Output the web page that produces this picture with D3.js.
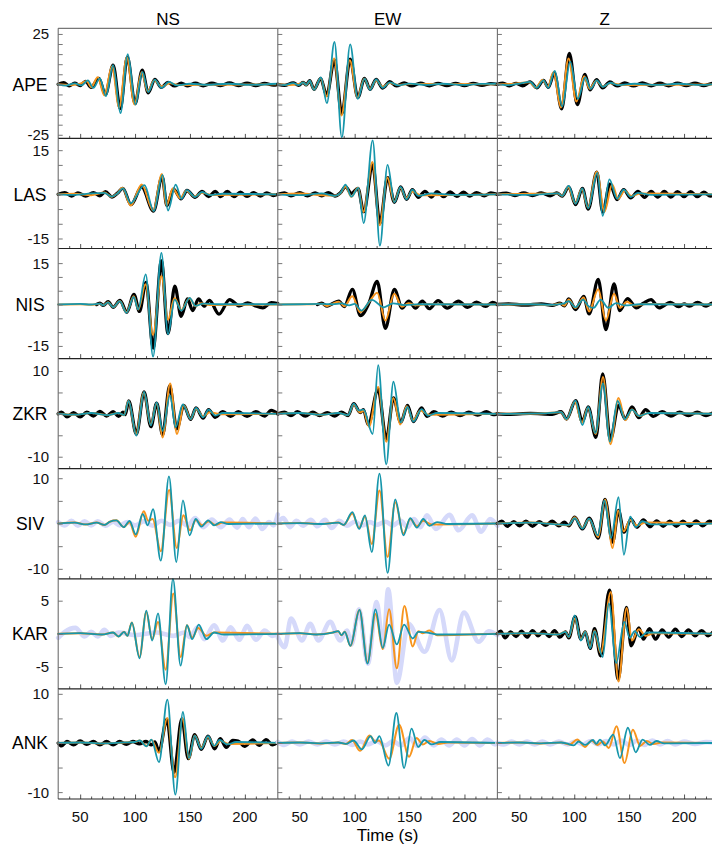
<!DOCTYPE html>
<html>
<head>
<meta charset="utf-8">
<script src="https://cdn.jsdelivr.net/npm/d3@7"></script>
<style>
  html, body { margin: 0; padding: 0; background: #fff; }
  svg { display: block; font-family: "Liberation Sans", Arial, sans-serif; }
</style>
</head>
<body>
<svg id="chart" width="712" height="850"></svg>
<script>
// Stations (rows), components (columns) and axis settings
const stations = ["APE", "LAS", "NIS", "ZKR", "SIV", "KAR", "ANK"];
const components = ["NS", "EW", "Z"];
const timeDomain = [30, 230];
const timeMinorTicks = d3.range(40, 230, 10);
const timeLabelTicks = [50, 100, 150, 200];
const ampDomains = [[-26.8, 27.8], [-18.4, 19], [-19.6, 20.3], [-12.8, 12.9], [-12.2, 12.1], [-8.3, 8.3], [-11.4, 11]];
const ampLabelTicks = [25, 15, 15, 10, 10, 5, 10];
const ampMinorStep = 5;

// Waveforms as [time (s), amplitude] turning points.
// obs = observed (black), synA = model A (orange), synB = model B (teal), rej = rejected record (lavender)

// APE
const ape_ns_obs = [[30,0],[35,0.8],[40,-0.8],[45,0.6],[50,-0.6],[55,1.5],[60,-1.5],[67,3],[73,-5],[80,9.5],[86.5,-12],[93,13.5],[100,-9.5],[106.5,7],[112,-4.2],[118,2.5],[124,-1.5],[130,1],[136,-0.8],[142,0.6],[148,-0.7],[155,0.6],[162,-0.7],[170,0.6],[178,-0.6],[186,0.7],[194,-0.6],[202,0.6],[210,-0.6],[218,0.5],[226,-0.4],[230,0]];
const ape_ns_synA = [[30,0],[40,-0.3],[50,0.3],[56,1.6],[60,-1.4],[66,3.5],[72,-5.5],[79,9],[85.5,-11.5],[92.5,13.5],[99.5,-10],[106,6],[111.5,-3.5],[117.5,2],[124,-1],[132,0.5],[140,-0.3],[230,0]];
const ape_ns_synB = [[30,0],[37,-0.6],[45,0.5],[51,-0.5],[57,2],[62,-1.7],[68,3],[73.5,-5.8],[80,9.5],[86.7,-14.3],[93.4,15],[100.3,-10],[106.7,6.2],[112,-3.8],[118,2.3],[124,-1.7],[131,1.2],[138,-0.5],[150,0.3],[165,-0.2],[185,0.3],[205,-0.2],[230,0.3]];
const ape_ew_obs = [[30,0],[36,-0.5],[44,0.7],[49,-0.5],[53,1],[56,-0.3],[59,1.8],[63,-2.5],[69,3],[74.5,-5.5],[81.5,12],[88.3,-14.5],[95.9,12.5],[102.9,-6.5],[109,3],[114,-2.5],[119.5,2.5],[125.6,-1.8],[132,1.3],[138,-0.8],[145,0.7],[152,-0.8],[160,0.6],[168,-0.7],[176,0.5],[184,-0.6],[192,0.5],[200,-0.6],[208,0.5],[216,-0.5],[224,0.4],[230,0]];
const ape_ew_synA = [[30,0],[40,-0.3],[50,0.3],[53,0.9],[56,-0.3],[59,1.7],[63,-2.5],[69,3],[74.5,-6],[81.3,12.8],[88,-15.5],[95.6,12],[102.6,-6.5],[108.7,2.8],[114,-2.3],[119.5,2],[125.5,-1.2],[132,0.7],[140,-0.3],[150,0.2],[230,0]];
const ape_ew_synB = [[30,0],[36,-0.4],[44,0.6],[49,-0.4],[53,1],[56,-0.3],[59,1.8],[63,-2.7],[69.3,3.4],[74.7,-9.3],[81.6,21],[88.3,-26.3],[95.9,19.8],[102.9,-7.2],[109,2.8],[114,-2.7],[119.5,2.5],[125.6,-1.7],[132,1],[140,-0.5],[150,0.4],[165,-0.3],[180,0.3],[200,-0.3],[215,0.2],[230,0.3]];
const ape_z_obs = [[30,0],[35,0.6],[41,-0.7],[47,0.5],[53,-0.7],[59.7,1.2],[65.8,-1.7],[71.9,2],[76.4,-1.5],[81.8,5.7],[88.5,-12.2],[95.5,15.3],[102.8,-10],[109.7,5],[114.3,-2.7],[120.3,2.3],[125.8,-1.7],[132.5,1.2],[139,-0.8],[146,0.7],[154,-0.8],[162,0.7],[170,-0.7],[178,0.6],[186,-0.7],[194,0.6],[202,-0.6],[210,0.6],[218,-0.6],[226,0.5],[230,0]];
const ape_z_synA = [[30,0],[45,0.3],[59,1],[65,-1.5],[71,2.2],[76,-1.2],[81,6],[87.8,-11.5],[94.8,12.8],[102,-8.5],[109,4],[114,-2.2],[120,1.8],[126,-1],[133,0.5],[145,-0.3],[230,0]];
const ape_z_synB = [[30,0],[40,-0.4],[50,0.4],[59.7,1.2],[65.8,-1.7],[71.9,2],[76.4,-1.7],[82.3,6.7],[89,-11],[96.3,11.2],[103.3,-7.2],[110,3.5],[115,-2.2],[120.5,2],[126,-1.2],[133,0.8],[140,-0.4],[155,0.3],[175,-0.3],[195,0.3],[215,-0.3],[230,0.2]];

// LAS
const las_ns_obs = [[30,0],[36,0.6],[42,-0.6],[48,0.5],[55,-0.6],[62,0.6],[68,-0.5],[73,0.9],[79,-0.9],[84,0.4],[88.8,2],[96.3,-3.5],[106,2.5],[116.8,-5.7],[124.7,6],[129,-3.8],[135,1.8],[142,-1.5],[147.3,1.3],[154.7,-1],[161,1],[167,-0.8],[173,1],[178,-0.8],[184,1],[190,-0.8],[196,0.7],[202,-0.7],[208,0.6],[214,-0.6],[220,0.5],[226,-0.4],[230,0]];
const las_ns_synA = [[30,0],[45,0.2],[60,-0.3],[72,0.6],[78.6,-0.8],[84,0.4],[88.5,2.2],[96,-3.8],[106,3.3],[116.5,-5.5],[124.5,6.9],[128.5,-3.8],[134.5,2],[141,-1.3],[147,1.2],[154,-0.7],[161,0.5],[170,-0.2],[230,0]];
const las_ns_synB = [[30,0],[45,-0.2],[60,0.3],[72,0.5],[78.6,-0.8],[84,0.3],[89,2],[96,-3],[108.6,3.1],[117,-5.7],[125,6.6],[130,-5.5],[137,3.3],[142.3,-1.5],[147.3,1.4],[154.7,-0.9],[161,0.8],[168,-0.3],[180,0.2],[230,0]];
const las_ew_obs = [[30,0],[36,0.5],[42,-0.5],[50,0.6],[57,-0.5],[64,0.5],[70,-0.5],[76,0.6],[82,-0.6],[87,0.5],[91.7,2.5],[97,0.3],[103,2],[108.2,-5.9],[116.4,10],[123,-9.8],[130,5.7],[136.2,-2.7],[141.9,2.5],[147.3,-1.7],[152.6,1.6],[158,-1],[164,1],[170,-0.9],[175,0.9],[181,-0.8],[187,0.8],[193,-0.7],[199,0.7],[205,-0.6],[211,0.6],[218,-0.5],[224,0.5],[230,0]];
const las_ew_synA = [[30,0],[50,0.3],[70,-0.3],[82,-0.5],[87,0.4],[91.7,2.7],[97,-0.8],[103,2.2],[108,-6],[116.2,11],[122.8,-10.5],[129.8,5.7],[136,-2.5],[141.7,2.2],[147,-1.3],[152.5,1],[160,-0.3],[230,0]];
const las_ew_synB = [[30,0],[50,-0.3],[70,0.3],[82,-0.5],[87,0.4],[91.7,3.3],[97,-0.8],[103.3,2.2],[108.2,-9.8],[116.4,18.3],[123,-17.4],[130,10],[136.2,-2.7],[141.9,2.5],[147.3,-1.7],[152.6,1.6],[158,-0.5],[170,0.3],[190,-0.2],[230,0]];
const las_z_obs = [[30,0],[38,0.4],[46,-0.4],[54,0.5],[62,-0.4],[70,0.5],[78,-0.5],[84,0.5],[89,-0.6],[95,2.5],[101.2,-3.5],[107.4,2],[112.7,-5],[120.5,7.5],[126,-6],[132.5,3.5],[139,-1.8],[145,1.6],[151.4,-1.2],[158,1],[164,-1],[170,1],[176,-0.9],[182,1],[188,-0.9],[194,0.9],[200,-0.8],[206,0.9],[212,-0.8],[218,0.7],[224,-0.6],[230,0]];
const las_z_synA = [[30,0],[60,0.2],[85,0.3],[89,-0.5],[94.5,2.5],[100.8,-3],[107,1.8],[112.5,-4.5],[120.5,7.7],[127.5,-5.9],[134.5,3.3],[140,-1.5],[146,1.2],[152,-0.6],[160,0.3],[230,0]];
const las_z_synB = [[30,0],[60,-0.2],[85,0.3],[89,-0.5],[95,2.9],[101.2,-3.2],[107.4,2],[112.7,-4.7],[121,7.3],[125.9,-7.3],[132,5.1],[139,-1.5],[145,1.6],[151.4,-0.9],[158,0.5],[170,-0.2],[230,0]];

// NIS
const nis_ns_obs = [[65,0],[68,0.5],[71,-0.3],[75.5,1],[80,-1],[86.3,1.5],[92.5,-2.8],[99,3.7],[104,-2.5],[110,8],[116.5,-15.8],[124,15.8],[130,-10.5],[136.2,6.7],[142,-4.3],[147.7,2],[152.5,-2.2],[157.8,2],[162.9,-0.6],[167.8,1.5],[176.4,-3.5],[186.1,1.8],[195,-0.5],[202.6,0.6],[209,-0.4],[216.4,-1.2],[224,0.7],[230,0.3]];
const nis_ns_synA = [[30,0],[50,0.1],[60,-0.1],[68,0.3],[71,-0.3],[75.5,0.8],[80,-1],[86.1,1.3],[92.2,-2.8],[98.8,3],[103,-1.8],[109.5,7.3],[116.3,-11],[124,10.3],[130,-5.5],[136,2.4],[142,-2],[149.5,2.3],[155,-0.6],[160,0.5],[168,-0.2],[230,0]];
const nis_ns_synB = [[30,0],[50,0.2],[60,0],[68,0.3],[71,-0.3],[75.5,0.8],[80,-1],[86.1,1.2],[92.2,-3],[98.8,2.8],[102.8,-1.8],[109.7,10.9],[116.4,-18.9],[124,18.7],[130,-10.8],[136.1,1.8],[142.2,-2.2],[149.7,2.4],[155,-0.5],[162,0.3],[175,0.1],[230,0.1]];
const nis_ew_obs = [[66,0],[70,0.5],[75,-0.6],[80,0.4],[85.6,1.2],[90.5,-0.8],[97.9,5.5],[105.3,-4],[113,0.5],[120.5,8.4],[128,-8.6],[136.2,5.5],[143.2,-1.3],[149.3,1.2],[155.4,-1.3],[161.7,1.2],[167.9,-1.5],[176,1.4],[184.3,-1.3],[194.6,1.2],[202.8,-1],[211,0.9],[219.3,-0.7],[225.5,0.8],[230,0]];
const nis_ew_synA = [[30,0],[60,0.1],[70,0.3],[75,-0.5],[80,0.3],[85.6,1],[90.5,-0.6],[97.9,3],[105,-2.8],[112.5,0.5],[120.5,4.3],[128,-5.8],[136,3.9],[143,-0.8],[149,0.5],[156,-0.3],[165,0.1],[230,0]];
const nis_ew_synB = [[30,0],[50,0.1],[70,0.2],[80,0.1],[88,0.4],[95,-0.3],[100,0.2],[106.1,-2.2],[115.6,1.7],[126.7,-1],[135,0.4],[145,-0.2],[160,0.1],[230,0]];
const nis_z_obs = [[30,0],[40,0.2],[55,-0.2],[70,0.2],[80,-0.3],[87,0.5],[91,-0.5],[95,2],[101.2,-1.8],[108.6,2.9],[113.5,-3.4],[121.8,9.1],[128.8,-9.1],[136.2,7.5],[141.5,-2.2],[148.5,2.1],[156.7,-1.2],[163,0.5],[169.9,1.8],[177.2,-1.2],[187.6,0.8],[195,-0.8],[200,0.2],[205,-0.6],[212.3,0.8],[220,-0.6],[226,0.5],[230,0]];
const nis_z_synA = [[30,0],[60,0.1],[80,-0.2],[87,0.4],[91,-0.4],[95,1.8],[101,-1.3],[108.6,2.5],[113.5,-2.5],[121.8,5.5],[128.8,-5.8],[136.2,3.9],[141.5,-1.2],[148,1],[155,-0.4],[165,0.2],[230,0]];
const nis_z_synB = [[30,0],[60,0.1],[80,-0.1],[90,0.3],[95,1.2],[101,-1],[108,1.8],[113,-0.6],[117.6,-1.2],[124,1.8],[131,-1.2],[138,0.5],[146,-0.3],[160,0.1],[230,0]];

// ZKR
const zkr_ns_obs = [[30,0],[33,0.4],[38,-0.7],[44,0.3],[50,-0.7],[56,0.4],[62,-0.5],[68,0.6],[74,-0.5],[80,0.5],[85,-0.6],[89,0.4],[91,-0.2],[94.2,3],[101.2,-4.7],[108.2,5.1],[114.4,-3],[119.7,2.5],[125.1,-4.9],[131.5,6.5],[138,-3.5],[144.4,2],[150.6,-1.3],[155.5,1.4],[162,-1],[167,1],[173,-0.8],[180,0.5],[187,-0.6],[194,0.5],[202,-0.6],[210,0.5],[218,-0.5],[224,0.8],[230,0]];
const zkr_ns_synA = [[30,0],[45,-0.2],[60,0.2],[75,-0.3],[85,0.2],[90,-0.3],[94,3],[101,-4.7],[108,5],[114.2,-2.5],[119.7,2.5],[125.1,-5.5],[132,7.1],[138.2,-4.7],[144.4,2],[150.6,-1.2],[155.5,1.2],[162,-0.6],[168,0.4],[178,-0.1],[230,0]];
const zkr_ns_synB = [[30,0],[45,-0.2],[60,0.2],[75,-0.3],[85,0.2],[90,-0.3],[94.2,3],[101.2,-5.1],[108.2,5.1],[114.4,-2.7],[119.7,2.7],[125.1,-4],[131.8,4.3],[137,-3.1],[143.5,2.2],[150.6,-1.2],[155.5,1.4],[162,-0.8],[167,1],[173,-0.4],[180,0.2],[230,0]];
const zkr_ew_obs = [[30,0],[36,0.4],[42,-0.4],[48,0.5],[55,-0.5],[62,0.4],[68,-0.4],[75,0.3],[82,-0.5],[88,0.4],[94,-0.4],[99.1,2.4],[105,0.3],[108,1],[112.3,-2.5],[121.4,5.7],[128.8,-5.9],[135.3,3.7],[142,-2],[148.1,2],[153.5,-1.8],[160.9,1.4],[166,-0.6],[172,0.5],[180,-0.5],[188,0.4],[196,-0.4],[204,0.4],[212,-0.3],[220,0.5],[226,-0.2],[230,0]];
const zkr_ew_synA = [[30,0],[50,0.2],[70,-0.2],[85,0.2],[94,-0.3],[99,2.2],[105,0.3],[108,0.8],[113,-3],[121.4,6.3],[128.8,-6.5],[135.3,3.7],[141.5,-2.5],[147.5,1.8],[153,-1.5],[160,0.8],[167,-0.2],[230,0]];
const zkr_ew_synB = [[30,0],[50,0.2],[70,-0.2],[85,0.2],[94,-0.3],[99.1,2.4],[104,0.8],[108,1],[116.4,-4.7],[121.4,11.4],[128.8,-11.8],[135.3,7.5],[142,-2],[148.1,1.6],[153.5,-1.8],[160.9,1.1],[167,-0.4],[175,0.2],[230,0]];
const zkr_z_obs = [[30,0],[40,-0.1],[60,0.1],[80,-0.1],[88,0.5],[93,-1.2],[101.2,3.1],[107.4,-1.8],[112.7,1.6],[119.7,-5.5],[125.9,9.3],[132.9,-6],[140.3,2],[146.5,-1.2],[152.6,1.6],[158.8,-0.9],[165,1],[172,-0.6],[180,0.5],[188,-0.5],[196,0.4],[204,-0.4],[212,0.4],[220,-0.4],[228,0.3],[230,0]];
const zkr_z_synA = [[30,0],[70,0.1],[88,0.4],[93,-1.3],[100.5,2.8],[107,-2],[112.5,1.4],[119.5,-4.7],[126.2,8.6],[132.9,-7.1],[140.3,3.7],[146.5,-1.5],[152.6,1],[159,-0.5],[168,0.2],[230,0]];
const zkr_z_synB = [[30,0],[70,0.1],[88,0.4],[93,-1.2],[101.2,3.1],[107.4,-2.6],[112.7,1.6],[119.2,-4.5],[126.2,7.1],[132.5,-6.5],[139.5,3],[146,-1.2],[152.6,1],[159,-0.5],[168,0.2],[230,0]];

// SIV
const siv_ns_synA = [[30,0],[45,0.2],[55,-0.2],[65,0.2],[72,-0.3],[77,0.4],[83,0.7],[89.7,-0.8],[95,0.3],[100.6,-2.9],[107.9,2.7],[112,0.6],[116,1],[123.5,-6.1],[131,7.4],[138,-5.4],[144,1.8],[150,-1.5],[155.5,0.8],[161,-0.4],[167,0.5],[173,-0.3],[180,0.2],[230,0]];
const siv_ns_synB = [[30,0],[45,0.2],[55,-0.2],[65,0.2],[72,-0.3],[77,0.4],[83,0.7],[89.7,-0.8],[95,0.6],[100.6,-2.4],[107,2.1],[111.5,-0.4],[116.4,3.2],[123.4,-8.2],[130.9,10.4],[137.6,-8.5],[143.6,5.1],[149.7,-2.6],[155.2,1],[160.4,-0.7],[166.5,0.7],[172,-0.4],[178,0.3],[185,-0.1],[230,0]];
const siv_ns_rej = [[30,0.3],[36,-0.4],[42,0.6],[48,-0.5],[54,0.5],[60,-0.4],[66,0.5],[73,-0.5],[80,0.4],[86,-0.4],[93,0.3],[100,-0.4],[108,0.5],[116,-0.5],[124,0.6],[132,-0.3],[140,0.6],[148,-0.5],[154.7,1.2],[162,-0.8],[170,0.9],[178,-0.8],[186,0.9],[193,-0.9],[198,1],[203.6,-0.8],[209.7,1.1],[215.8,-1.2],[222,0.3],[226,-0.4],[230,2]];
const siv_ew_synA = [[30,0],[50,0.1],[70,-0.1],[85,0.2],[90,-0.3],[97.9,2.2],[104,-1],[109.4,1.5],[115.6,-4.5],[122.6,7.3],[130,-7.4],[137,4.7],[144.4,-2.2],[150.6,1],[156.7,-0.6],[162.5,0.6],[170,-0.2],[230,0]];
const siv_ew_synB = [[30,0],[50,0.1],[70,-0.1],[85,0.2],[90,-0.3],[97.9,2.5],[104.1,-1.2],[109.4,1.8],[115.6,-6.3],[122.6,11],[130,-10.9],[137,5.3],[144.4,-2.6],[150.6,1.2],[156.7,-0.9],[162.5,1],[168,-0.5],[175,0.3],[185,-0.1],[230,0]];
const siv_ew_rej = [[30,0.3],[35,1.2],[41,-0.8],[47,0.6],[53,-0.5],[60,0.8],[66,-0.6],[73,0.8],[79,-1],[86,0.6],[93,-0.5],[100,0.4],[107,-0.4],[114,0.3],[120,-0.3],[128,0.4],[135,-0.4],[142,0.6],[148,-0.8],[154,1],[160,-0.8],[165.8,1.8],[174,-1.2],[186.4,1.9],[194.6,-1.5],[207,1.8],[215.2,-1.8],[223.4,1],[230,-0.5]];
const siv_z_obs = [[30,0],[34,0.5],[39,-0.6],[45,0.4],[50,-0.5],[56,0.5],[62,-0.6],[68,0.4],[74,-0.4],[80,0.5],[86,-0.5],[91,0.3],[95,-0.5],[100.4,1.4],[107.4,-1.2],[113.5,1.2],[121.8,-3.2],[128,5.3],[134.9,-4.1],[140.3,2.9],[145.2,-1.9],[151.8,0.9],[157,-0.8],[163,0.8],[169,-0.7],[175,0.6],[181,-0.6],[187,0.5],[193,-0.6],[199,0.5],[205,-0.6],[211,0.6],[217,-0.5],[223,0.5],[230,0]];
const siv_z_synA = [[30,0],[60,0.2],[85,-0.2],[95,-0.4],[100.4,1.4],[107.4,-1],[113.5,1],[121.8,-3],[128,5.3],[134.9,-5.4],[140,2.9],[145,-1.7],[151,0.8],[157,-0.4],[165,0.2],[230,0]];
const siv_z_synB = [[30,0],[60,0.2],[85,-0.2],[95,-0.3],[100.4,1.2],[107.4,-1.1],[113.5,1.1],[121.5,-2.6],[127.5,5.1],[133.5,-3.2],[140.3,5.8],[145.2,-6.9],[151,1.5],[156,-0.8],[162,0.5],[170,-0.2],[230,0]];

// KAR
const kar_ns_synA = [[30,0],[50,0.1],[70,-0.1],[80,0.2],[85,-0.4],[90,0.3],[93,-0.3],[97.1,1.7],[104.1,-3.5],[110.2,3.3],[115.6,-0.8],[120.9,1.8],[127.9,-5.4],[134.8,6.1],[141.5,-3.5],[147.3,1.3],[152,-0.6],[157.5,0.9],[165,-0.3],[172,0.2],[230,0]];
const kar_ns_synB = [[30,0],[50,0.1],[70,-0.1],[80,0.2],[85,-0.4],[90,0.3],[93,-0.3],[97.1,1.7],[104.1,-3.7],[110.2,3.5],[115.6,-1],[120.9,3.1],[127.9,-7.6],[134.5,8.3],[141.5,-4.8],[147.3,1.3],[152,-0.8],[158,1.4],[165,-0.8],[172,0.2],[180,-0.1],[230,0]];
const kar_ns_rej = [[30,-0.6],[36,0.3],[45.6,0.9],[54,-0.4],[60,0.3],[66,-0.4],[72,0.6],[78,-0.3],[85,0.2],[100,-0.2],[120,0.2],[135,-0.3],[145,0.2],[150,-0.5],[157,1],[163,-0.8],[172,1.3],[180,-1],[187,1],[195,-0.9],[202,1.2],[210,-0.9],[218,0.5],[225,-0.3],[230,0]];
const kar_ew_synA = [[30,0],[50,0.1],[65,-0.1],[80,0.2],[85,0.4],[88,-0.2],[91,0.3],[96.1,-1.8],[104.4,3.6],[111.7,-4.3],[119,3],[125.6,-2.3],[131.4,3.7],[138.4,-5.2],[145.3,4.2],[152.9,-1.9],[158,0.4],[162,0.1],[168.2,0.5],[175,-0.2],[230,0]];
const kar_ew_synB = [[30,0],[50,0.1],[65,-0.1],[80,0.2],[85,0.4],[88,-0.2],[91,0.3],[96.1,-1.8],[104.4,3.6],[111.7,-4.5],[119,3.7],[125.6,-2.1],[131.4,1.4],[138.4,-1.6],[145,1.4],[152.9,-0.7],[158,0.3],[166,0.2],[175,-0.1],[230,0]];
const kar_ew_rej = [[30,-0.5],[36.3,-2],[42,2.3],[52,-1],[59.5,1.5],[67,-1],[77.7,1.8],[86.8,-1],[93,0.5],[97,-1.6],[104,3.7],[112,-4.5],[120,4.8],[126,-2],[130.5,6.7],[138.5,-7.4],[149,1.5],[163.7,-2.7],[177.3,3.6],[188.4,-4],[199.5,3.2],[213,-1.2],[222,0.4],[230,-0.2]];
const kar_z_obs = [[30,0],[33,0.4],[37,-0.6],[42,0.3],[47,-0.4],[52,0.4],[57,-0.5],[62,0.5],[67,-0.3],[72,0.4],[77,-0.4],[82,0.5],[87,-0.5],[92,0.3],[95,-0.6],[100.8,2.6],[106,-0.8],[110,0.3],[114.5,-2.2],[118.5,0.8],[124,-3.3],[132,6.6],[140,-6.8],[147.5,4],[151.8,-1.8],[158.8,0.9],[163,-0.8],[168.5,0.8],[174,-0.8],[180,0.6],[186,-0.5],[192,0.7],[198,-0.4],[204,0.6],[210,-0.3],[216,0.5],[222,-0.3],[228,0.4],[230,0]];
const kar_z_synA = [[30,0],[60,0.1],[85,-0.1],[92,0.3],[95,-0.5],[100.6,2.3],[106,-0.8],[110,0.3],[114.5,-2],[118.5,0.5],[124,-2.9],[133.3,6.3],[140.3,-7.2],[147.7,3.9],[152.6,-1],[158.8,0.7],[165,-0.3],[172,0.1],[230,0]];
const kar_z_synB = [[30,0],[60,0.1],[85,-0.1],[92,0.3],[95,-0.5],[100.4,2.8],[106,-1],[110,0.3],[114.5,-2.2],[118.5,0.4],[125.9,-3.5],[131.5,4.6],[138.2,-4.4],[145.6,1.8],[150.5,-0.6],[155,0.4],[160,-0.5],[166,0.2],[230,0]];

// ANK
const ank_ns_obs = [[30,0],[33,-0.6],[38,0.3],[44,-0.4],[50,0.4],[56,-0.3],[62,0.3],[68,-0.4],[74,0.3],[80,-0.4],[86,0.3],[92,-0.3],[98,0.3],[104,-0.2],[110,0.3],[115,-0.4],[118,0.2],[121.8,-1.7],[129,4.8],[135.5,-6],[142.6,4.9],[148.5,-3.2],[154.3,1.7],[160.3,-1.3],[166.4,1.4],[172.5,-1.2],[177.5,0.9],[183.1,-0.9],[189,0.5],[194,0.4],[199.7,-0.7],[207.3,0.6],[213,-0.5],[219.4,0.7],[225,-0.4],[230,0.2]];
const ank_ns_synA = [[30,0],[50,0.1],[70,-0.1],[90,0.1],[100,0.2],[104.3,0.5],[110.4,-0.6],[114.9,0.6],[121.8,-2],[129.4,5.1],[136.5,-7],[143.3,5],[149.1,-3.2],[154.3,1.5],[160.3,-1],[166.4,1.2],[172.5,-0.6],[178,0.4],[185,-0.2],[230,0]];
const ank_ns_synB = [[30,0],[50,0.1],[70,-0.1],[90,0.1],[100,0.2],[104.3,0.5],[110.4,-0.7],[114.9,0.7],[121.8,-3.9],[129.4,8.8],[136.7,-10.5],[143.6,6.3],[149.1,-3.1],[154.3,1.5],[160.3,-1.2],[166.4,1.4],[172,-0.6],[177,0.6],[184,-0.3],[192,0.2],[230,0]];
const ank_ew_synA = [[30,0],[50,0.1],[70,-0.1],[85,0.1],[92,-0.2],[97.5,0.6],[105,-1.6],[113.5,1.5],[119,0.3],[122,0.5],[131.5,-3.2],[140.5,3.7],[149.5,-2.8],[156.4,1],[162,-0.3],[168,0.4],[176,-0.2],[185,0.1],[230,0]];
const ank_ew_synB = [[30,0],[50,0.1],[70,-0.1],[85,0.1],[92,-0.2],[99,0.5],[106.6,-1.3],[114.5,1.4],[118.5,0],[122.5,1.4],[130.8,-4.6],[138,6.1],[145,-5.1],[151.8,2.9],[157.8,-0.8],[163.5,0.6],[170,-0.3],[178,0.2],[230,0]];
const ank_ew_rej = [[30,0.2],[36,-0.4],[43,0.3],[50,-0.3],[58,0.3],[66,-0.3],[74,0.3],[82,-0.3],[90,0.3],[98,-0.4],[105,0.3],[112,-0.3],[120,0.4],[128,-0.5],[135,0.4],[142,-0.5],[150,1],[157,-0.6],[164,1.1],[172,-0.5],[179,0.7],[186,-0.5],[193,0.7],[200,-0.5],[207,0.8],[214,-0.5],[221,0.7],[228,-0.3],[230,0]];
const ank_z_synA = [[30,0],[50,0.1],[70,-0.1],[88,0.1],[96,-0.3],[102.7,0.7],[109.7,-0.8],[115.8,0.5],[121,-0.4],[126,0.3],[131.5,-1],[138.5,3.4],[145.8,-4.1],[153.4,2.7],[160,-0.6],[166,0.4],[172,-0.2],[180,0.1],[230,0]];
const ank_z_synB = [[30,0],[50,0.1],[70,-0.1],[88,0.1],[93,-0.1],[99.5,-0.5],[104,0.3],[110,-0.4],[117,0.6],[120,-0.2],[123.4,0.7],[128,-0.5],[135.5,1.7],[141.6,-3.1],[148.8,3.1],[156,-1.9],[162.2,0.7],[168.8,-0.4],[174.9,0.4],[182,-0.1],[230,0]];
const ank_z_rej = [[30,0],[36,-0.3],[43,0.3],[50,-0.3],[57,0.3],[64,-0.3],[71,0.3],[78,-0.3],[86,0.3],[94,-0.3],[101,0.3],[108,-0.3],[115,0.4],[122,-0.3],[129,0.4],[136,-0.3],[143,0.5],[150,-0.4],[157,0.5],[164,-0.4],[171,0.5],[178,-0.3],[185,0.4],[192,-0.3],[200,0.3],[210,-0.2],[220,0.2],[230,0]];

// Panel table: row index, column index and the traces it carries
const panels = [
  {row: 0, col: 0, obs: ape_ns_obs, synA: ape_ns_synA, synB: ape_ns_synB},
  {row: 0, col: 1, obs: ape_ew_obs, synA: ape_ew_synA, synB: ape_ew_synB},
  {row: 0, col: 2, obs: ape_z_obs, synA: ape_z_synA, synB: ape_z_synB},
  {row: 1, col: 0, obs: las_ns_obs, synA: las_ns_synA, synB: las_ns_synB},
  {row: 1, col: 1, obs: las_ew_obs, synA: las_ew_synA, synB: las_ew_synB},
  {row: 1, col: 2, obs: las_z_obs, synA: las_z_synA, synB: las_z_synB},
  {row: 2, col: 0, obs: nis_ns_obs, synA: nis_ns_synA, synB: nis_ns_synB},
  {row: 2, col: 1, obs: nis_ew_obs, synA: nis_ew_synA, synB: nis_ew_synB},
  {row: 2, col: 2, obs: nis_z_obs, synA: nis_z_synA, synB: nis_z_synB},
  {row: 3, col: 0, obs: zkr_ns_obs, synA: zkr_ns_synA, synB: zkr_ns_synB},
  {row: 3, col: 1, obs: zkr_ew_obs, synA: zkr_ew_synA, synB: zkr_ew_synB},
  {row: 3, col: 2, obs: zkr_z_obs, synA: zkr_z_synA, synB: zkr_z_synB},
  {row: 4, col: 0, rej: siv_ns_rej, synA: siv_ns_synA, synB: siv_ns_synB},
  {row: 4, col: 1, rej: siv_ew_rej, synA: siv_ew_synA, synB: siv_ew_synB},
  {row: 4, col: 2, obs: siv_z_obs, synA: siv_z_synA, synB: siv_z_synB},
  {row: 5, col: 0, rej: kar_ns_rej, synA: kar_ns_synA, synB: kar_ns_synB},
  {row: 5, col: 1, rej: kar_ew_rej, synA: kar_ew_synA, synB: kar_ew_synB},
  {row: 5, col: 2, obs: kar_z_obs, synA: kar_z_synA, synB: kar_z_synB},
  {row: 6, col: 0, obs: ank_ns_obs, synA: ank_ns_synA, synB: ank_ns_synB},
  {row: 6, col: 1, rej: ank_ew_rej, synA: ank_ew_synA, synB: ank_ew_synB},
  {row: 6, col: 2, rej: ank_z_rej, synA: ank_z_synA, synB: ank_z_synB}
];

// Layout
const W = 712, H = 850;
const gridLeft = 58.2, colWidth = 219.6;
const gridTop = 28.3, rowHeight = 110.1;
const traceStyles = [
  {key: "rej", color: "#d5d9fa", width: 4.6},
  {key: "obs", color: "#000000", width: 3.3},
  {key: "synA", color: "#f7941d", width: 2.0},
  {key: "synB", color: "#1696ab", width: 1.8}
];

const svg = d3.select("#chart");
const x = d3.scaleLinear().domain(timeDomain).range([0, colWidth]);
const yScales = ampDomains.map(dom => d3.scaleLinear().domain(dom).range([rowHeight, 0]));
const line = (ys) => d3.line().x(d => x(d[0])).y(d => ys(d[1])).curve(d3.curveMonotoneX);

const colX = c => gridLeft + c * colWidth;
const rowY = r => gridTop + r * rowHeight;

// Waveforms
panels.forEach(p => {
  const g = svg.append("g").attr("transform", `translate(${colX(p.col)},${rowY(p.row)})`);
  const ys = yScales[p.row];
  traceStyles.forEach(s => {
    if (!p[s.key]) return;
    g.append("path")
      .attr("d", line(ys)(p[s.key]))
      .attr("fill", "none")
      .attr("stroke", s.color)
      .attr("stroke-width", s.width)
      .attr("stroke-linejoin", "round")
      .attr("stroke-linecap", "round");
  });
});

// Frames and axes
stations.forEach((st, r) => {
  const ys = yScales[r];
  components.forEach((cp, c) => {
    const g = svg.append("g").attr("transform", `translate(${colX(c)},${rowY(r)})`);
    // left axis with inward ticks
    const yAxis = d3.axisRight(ys)
      .tickValues(d3.range(-ampLabelTicks[r], ampLabelTicks[r] + 0.01, ampMinorStep))
      .tickSize(4.5).tickFormat("");
    const ga = g.append("g").call(yAxis);
    ga.select(".domain").remove();
    ga.selectAll(".tick line").attr("stroke", "#777");
    g.append("line").attr("x1", 0).attr("x2", 0).attr("y1", 0).attr("y2", rowHeight)
      .attr("stroke", "#6e6e6e").attr("stroke-width", 1.1);
    // bottom axis with inward ticks
    const xMinor = d3.axisTop(x).tickValues(timeMinorTicks.filter(t => !timeLabelTicks.includes(t))).tickSize(2.5).tickFormat("");
    const xMajor = d3.axisTop(x).tickValues(timeLabelTicks).tickSize(4.5).tickFormat("");
    [xMinor, xMajor].forEach(ax => {
      const gx = g.append("g").attr("transform", `translate(0,${rowHeight})`).call(ax);
      gx.select(".domain").remove();
      gx.selectAll(".tick line").attr("stroke", "#555");
    });
    g.append("line").attr("x1", 0).attr("x2", colWidth).attr("y1", rowHeight).attr("y2", rowHeight)
      .attr("stroke", "#222").attr("stroke-width", 1.2);
    if (r === 0) {
      g.append("line").attr("x1", 0).attr("x2", colWidth).attr("y1", 0).attr("y2", 0)
        .attr("stroke", "#555").attr("stroke-width", 1);
    }
  });
  // amplitude labels on the first column
  const gl = svg.append("g").attr("transform", `translate(${gridLeft},${rowY(r)})`);
  [ampLabelTicks[r], -ampLabelTicks[r]].forEach(v => {
    gl.append("text").attr("x", -9).attr("y", ys(v)).attr("dy", "0.36em")
      .attr("text-anchor", "end").attr("font-size", 15).attr("fill", "#111").text(v);
  });
  // station name on the zero line
  svg.append("text").attr("x", 30).attr("y", rowY(r) + ys(0)).attr("dy", "0.36em")
    .attr("text-anchor", "middle").attr("font-size", 17.5).attr("fill", "#000").text(st);
});

// Component titles
components.forEach((cp, c) => {
  const left = colX(c), right = Math.min(colX(c) + colWidth, W);
  svg.append("text").attr("x", (left + right) / 2).attr("y", 24.5)
    .attr("text-anchor", "middle").attr("font-size", 17).attr("fill", "#000").text(cp);
});

// Time labels under each column
const bottom = rowY(stations.length);
components.forEach((cp, c) => {
  timeLabelTicks.forEach(t => {
    svg.append("text").attr("x", colX(c) + x(t)).attr("y", bottom + 22.5)
      .attr("text-anchor", "middle").attr("font-size", 15).attr("fill", "#111").text(t);
  });
});
svg.append("text").attr("x", colX(1) + colWidth / 2).attr("y", bottom + 41.5)
  .attr("text-anchor", "middle").attr("font-size", 17).attr("fill", "#000").text("Time (s)");
</script>
</body>
</html>
